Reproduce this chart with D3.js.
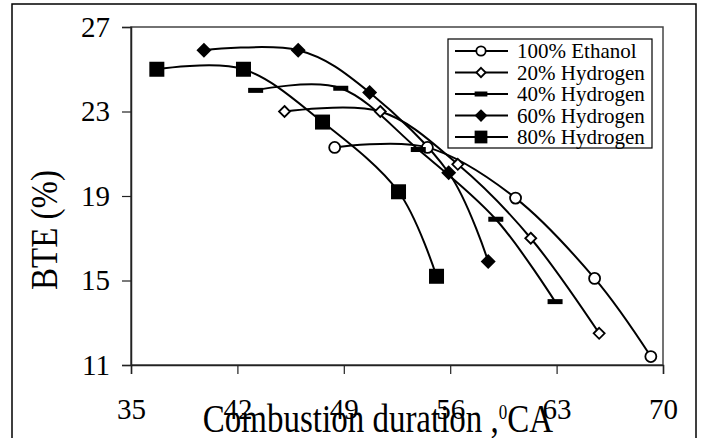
<!DOCTYPE html>
<html>
<head>
<meta charset="utf-8">
<script src="https://cdn.jsdelivr.net/npm/d3@7"></script>
<style>
  body { margin: 0; background: #fff; }
  text { font-family: "Liberation Serif", "Times New Roman", serif; fill: #000; }
</style>
</head>
<body>
<div id="chart"></div>
<script>
// data
var seriesNames = ["100% Ethanol", "20% Hydrogen", "40% Hydrogen", "60% Hydrogen", "80% Hydrogen"];
var ethanolX = [48.4, 54.5, 60.3, 65.5, 69.2];
var ethanolY = [21.3, 21.3, 18.9, 15.1, 11.4];
var h20X = [45.1, 51.4, 56.5, 61.3, 65.8];
var h20Y = [23.0, 23.0, 20.5, 17.0, 12.5];
var h40X = [43.2, 48.8, 53.9, 59.0, 62.9];
var h40Y = [24.0, 24.1, 21.2, 17.9, 14.0];
var h60X = [39.8, 46.0, 50.7, 55.9, 58.5];
var h60Y = [25.9, 25.9, 23.9, 20.1, 15.9];
var h80X = [36.7, 42.4, 47.6, 52.6, 55.1];
var h80Y = [25.0, 25.0, 22.5, 19.2, 15.2];
var xTicks = [35, 42, 49, 56, 63, 70];
var yTicks = [11, 15, 19, 23, 27];

(function(){

    var width = 701, height = 438;
    var left = 131, right = 663, top = 27, bottom = 365;

    var svg = d3.select("#chart")
                .append("svg")
                .attr("width", width)
                .attr("height", height);

    // outer chart frame
    svg.append("rect")
       .attr("x", 12).attr("y", 4)
       .attr("width", 684).attr("height", 460)
       .attr("fill", "#fff")
       .attr("stroke", "#000")
       .attr("stroke-width", 1.5);

    var x = d3.scaleLinear().domain([35, 70]).range([left, right]);
    var y = d3.scaleLinear().domain([11, 27]).range([bottom, top]);

    // plot area border
    svg.append("rect")
       .attr("x", left).attr("y", top)
       .attr("width", right - left).attr("height", bottom - top)
       .attr("fill", "none")
       .attr("stroke", "#444")
       .attr("stroke-width", 1.5);

    var xAxis = svg.append("g")
       .attr("transform", "translate(0," + bottom + ")")
       .call(d3.axisBottom(x).tickValues(xTicks).tickSize(9).tickPadding(24));
    var yAxis = svg.append("g")
       .attr("transform", "translate(" + left + ",0)")
       .call(d3.axisLeft(y).tickValues(yTicks).tickSize(9).tickPadding(12));

    [xAxis, yAxis].forEach(function(a){
        a.select(".domain").attr("stroke", "#222").attr("stroke-width", 1.5);
        a.selectAll(".tick line").attr("stroke", "#222").attr("stroke-width", 1.2);
        a.selectAll(".tick text")
         .style("font-family", "'Liberation Serif', serif")
         .style("font-size", "29px")
         .attr("fill", "#000");
    });
    xAxis.selectAll(".tick text").attr("dy", "0.72em");

    // axis titles (the original type is tall and narrow)
    svg.append("text")
       .attr("transform", "translate(378,432) scale(1,1.2)")
       .attr("text-anchor", "middle")
       .style("font-size", "33px")
       .html("Combustion duration ,<tspan dy='-11' font-size='17px'>0</tspan><tspan dy='11'>CA</tspan>");

    svg.append("text")
       .attr("transform", "translate(57,230) rotate(-90) scale(1,1.15)")
       .attr("text-anchor", "middle")
       .style("font-size", "33px")
       .text("BTE (%)");

    var series = [
        {name: seriesNames[0], xs: ethanolX, ys: ethanolY, mark: "circle"},
        {name: seriesNames[1], xs: h20X, ys: h20Y, mark: "openDiamond"},
        {name: seriesNames[2], xs: h40X, ys: h40Y, mark: "dash"},
        {name: seriesNames[3], xs: h60X, ys: h60Y, mark: "diamond"},
        {name: seriesNames[4], xs: h80X, ys: h80Y, mark: "square"}
    ];

    var line = d3.line()
        .x(function(d){ return x(d[0]); })
        .y(function(d){ return y(d[1]); })
        .curve(d3.curveCardinal.tension(0));

    function drawMark(g, type, cx, cy, s) {
        if (type == "circle") {
            g.append("circle").attr("cx", cx).attr("cy", cy).attr("r", 5.5 * s)
             .attr("fill", "#fff").attr("stroke", "#000").attr("stroke-width", 1.8);
        } else if (type == "openDiamond") {
            var r = 5.5 * s;
            g.append("path")
             .attr("d", "M" + cx + "," + (cy - r) + "L" + (cx + r) + "," + cy + "L" + cx + "," + (cy + r) + "L" + (cx - r) + "," + cy + "Z")
             .attr("fill", "#fff").attr("stroke", "#000").attr("stroke-width", 1.8);
        } else if (type == "dash") {
            g.append("rect").attr("x", cx - 7.5 * s).attr("y", cy - 2.5)
             .attr("width", 15 * s).attr("height", 5).attr("fill", "#000");
        } else if (type == "diamond") {
            var r2 = 7.5 * s;
            g.append("path")
             .attr("d", "M" + cx + "," + (cy - r2) + "L" + (cx + r2) + "," + cy + "L" + cx + "," + (cy + r2) + "L" + (cx - r2) + "," + cy + "Z")
             .attr("fill", "#000");
        } else {
            var h = 7.5 * s;
            g.append("rect").attr("x", cx - h).attr("y", cy - h)
             .attr("width", 2 * h).attr("height", 2 * h).attr("fill", "#000");
        }
    }

    var plot = svg.append("g");

    for (var s of series) {
        var pts = s.xs.map(function(v, i){ return [v, s.ys[i]]; });
        plot.append("path")
            .attr("d", line(pts))
            .attr("fill", "none")
            .attr("stroke", "#000")
            .attr("stroke-width", 2);
    }

    for (var s of series) {
        for (var i = 0; i < s.xs.length; i++) {
            drawMark(plot, s.mark, x(s.xs[i]), y(s.ys[i]), 1);
        }
    }

    // legend
    var legend = svg.append("g");
    legend.append("rect")
          .attr("x", 448).attr("y", 39)
          .attr("width", 204).attr("height", 109)
          .attr("fill", "#fff")
          .attr("stroke", "#000")
          .attr("stroke-width", 1.2);

    series.forEach(function(s, i){
        var ly = 51 + i * 21.5;
        legend.append("line")
              .attr("x1", 455).attr("x2", 508)
              .attr("y1", ly).attr("y2", ly)
              .attr("stroke", "#000").attr("stroke-width", 2);
        drawMark(legend, s.mark, 481, ly, 0.85);
        legend.append("text")
              .attr("x", 517).attr("y", ly)
              .attr("dy", "0.35em")
              .style("font-size", "21px")
              .text(s.name);
    });

})();
</script>
</body>
</html>
